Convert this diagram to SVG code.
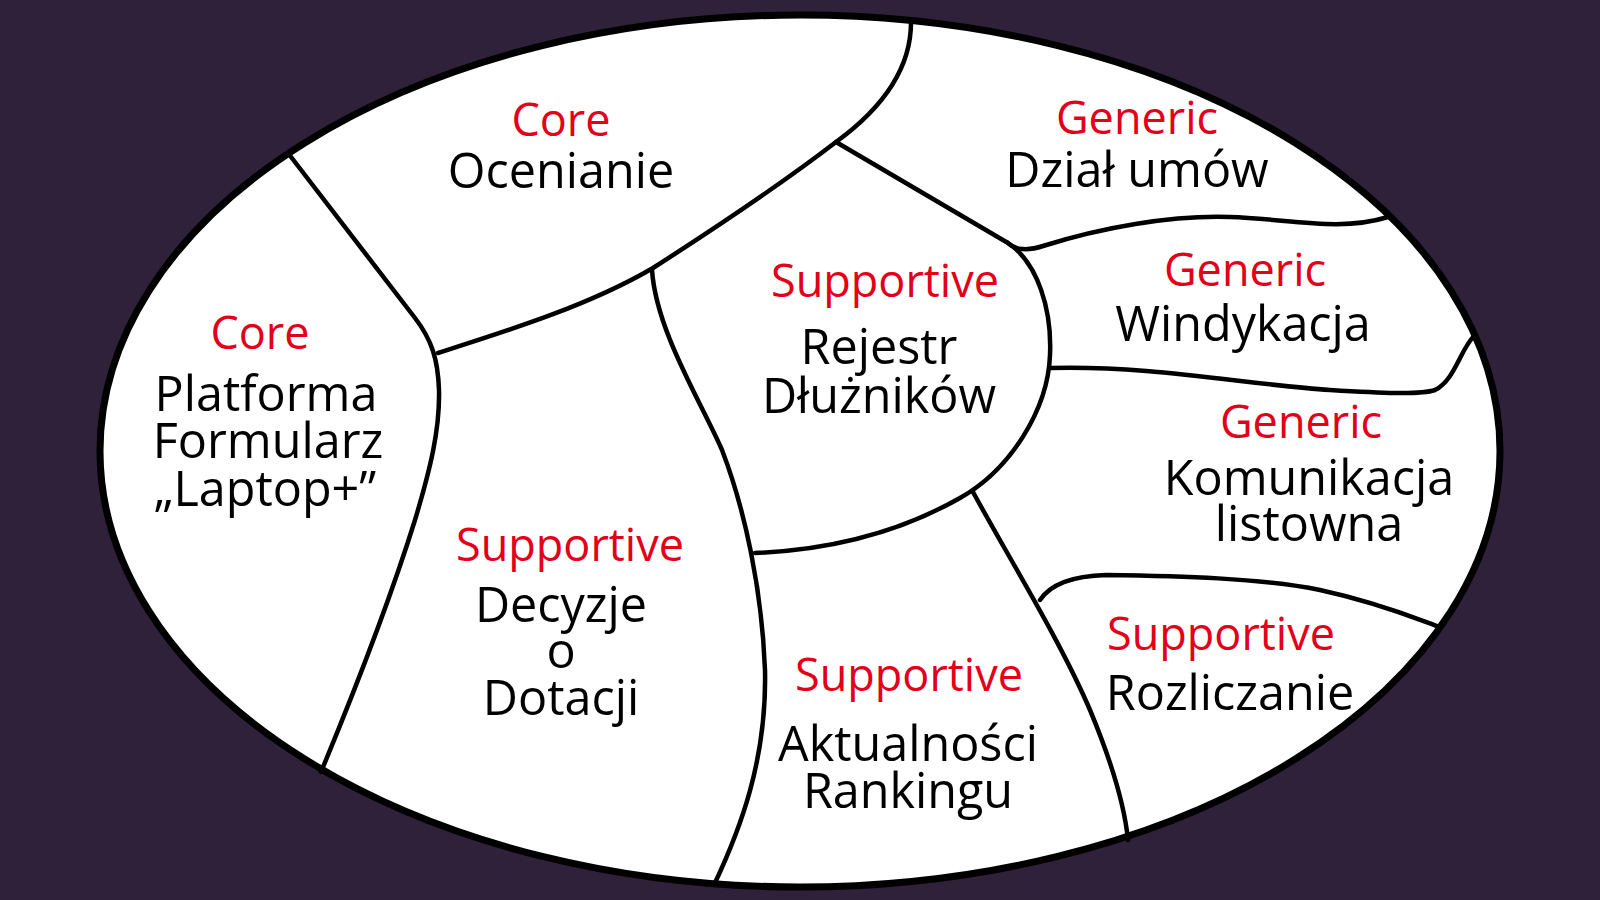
<svg xmlns="http://www.w3.org/2000/svg" width="1600" height="900" viewBox="0 0 1600 900">
<style>
.b{fill:none;stroke:#000;stroke-width:4.5;stroke-linecap:round;stroke-linejoin:round}
.t{font-family:"Open Sans","Noto Sans","DejaVu Sans",sans-serif;text-anchor:middle}
.r{fill:#e2001a;font-size:45px}
.k{fill:#000;font-size:48.5px}
</style>
<rect width="1600" height="900" fill="#2f213a"/>
<ellipse cx="800" cy="451" rx="700" ry="436" fill="#fff" stroke="#000" stroke-width="7"/>
<g id="connectors">
<path class="b" d="M911,20 C912,70 880,110 836,142 C780,185 720,225 653,268 C590,305 510,330 438,353"/>
<path class="b" d="M288,153 L415,318 C432,340 438,360 439,390 C440,430 430,470 415,520 C390,600 355,690 321,772"/>
<path class="b" d="M652,270 C656,330 700,400 722,450 C745,510 762,590 765,670 C767,760 740,830 714,885"/>
<path class="b" d="M836,142 L1008,243 C1038,263 1052,310 1050,355 C1048,410 1010,470 960,498 C900,532 830,550 755,553"/>
<path class="b" d="M973,492 C1010,560 1060,640 1090,710 C1115,770 1125,810 1128,840"/>
<path class="b" d="M1008,243 C1015,250 1028,251 1043,246 C1100,228 1170,215 1230,217 C1290,219 1340,232 1388,217"/>
<path class="b" d="M1050,368 C1150,365 1250,385 1330,390 C1380,393 1420,395 1435,390 C1455,380 1460,350 1474,336"/>
<path class="b" d="M1040,600 C1050,585 1070,576 1106,575 C1180,576 1260,578 1320,590 C1380,603 1420,620 1440,627"/>
</g>
<g id="ocenianie"><text class="t r" x="561" y="136">Core</text><text class="t k" x="561" y="188">Ocenianie</text></g>
<g id="platforma"><text class="t r" x="260" y="349">Core</text><text class="t k" x="266" y="411">Platforma</text><text class="t k" x="268" y="458">Formularz</text><text class="t k" x="265" y="506">„Laptop+”</text></g>
<g id="decyzje"><text class="t r" x="570" y="561">Supportive</text><text class="t k" x="561" y="622">Decyzje</text><text class="t k" x="561" y="668">o</text><text class="t k" x="561" y="715">Dotacji</text></g>
<g id="rejestr"><text class="t r" x="885" y="297">Supportive</text><text class="t k" x="879" y="364">Rejestr</text><text class="t k" x="879" y="413">Dłużników</text></g>
<g id="dzial"><text class="t r" x="1137" y="134">Generic</text><text class="t k" x="1137" y="187">Dział umów</text></g>
<g id="windykacja"><text class="t r" x="1245" y="286">Generic</text><text class="t k" x="1243" y="341">Windykacja</text></g>
<g id="komunikacja"><text class="t r" x="1301" y="438">Generic</text><text class="t k" x="1309" y="495">Komunikacja</text><text class="t k" x="1309" y="541">listowna</text></g>
<g id="rozliczanie"><text class="t r" x="1221" y="650">Supportive</text><text class="t k" x="1230" y="710">Rozliczanie</text></g>
<g id="aktualnosci"><text class="t r" x="909" y="691">Supportive</text><text class="t k" x="908" y="761">Aktualności</text><text class="t k" x="908" y="808">Rankingu</text></g>
</svg>
